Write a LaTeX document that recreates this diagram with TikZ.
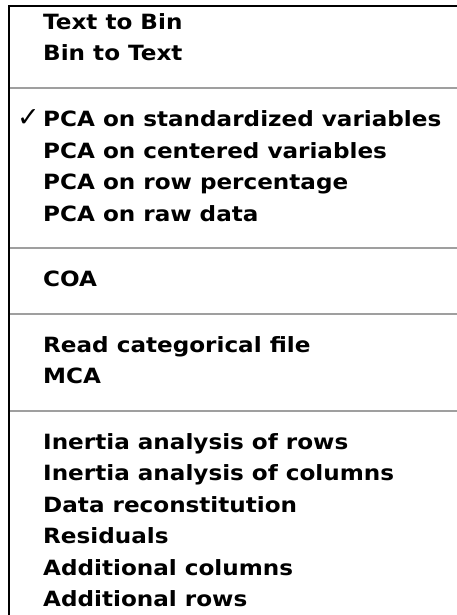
\documentclass[tikz,border=0pt]{standalone}
\usepackage{fontspec}
\setmainfont{DejaVu Sans}
\newfontfamily\menufont[FakeStretch=1.1]{DejaVu Sans}
\tikzset{
  item/.style={anchor=base west, inner sep=0pt, font=\menufont\fontsize{21}{21}\selectfont\bfseries},
  sep/.style={draw=gray!75, line width=2pt},
  frame/.style={draw=black, line width=2pt}
}
\begin{document}
\begin{tikzpicture}[x=1pt,y=-1pt]
  \useasboundingbox (0,0) rectangle (457,615);
  \fill[white] (0,0) rectangle (457,615);
  % menu border
  \draw[frame] (9,615) -- (9,6.5) -- (457,6.5);
  % items
  \node[item] (txtbin) at (43,29.5) {Text to Bin};
  \node[item] (bintxt) at (43,61) {Bin to Text};
  \draw[sep] (10,88) -- (457,88);
  \node[item] (pcastd) at (43,126.5) {PCA on standardized variables};
  \node[anchor=base east, inner sep=0pt, font=\fontsize{27}{27}\selectfont] (check) at (40,126.5) {✓};
  \node[item] (pcacen) at (43,158) {PCA on centered variables};
  \node[item] (pcarow) at (43,189.5) {PCA on row percentage};
  \node[item] (pcaraw) at (43,221) {PCA on raw data};
  \draw[sep] (10,248) -- (457,248);
  \node[item] (coa) at (43,286.5) {COA};
  \draw[sep] (10,313.5) -- (457,313.5);
  \node[item] (readcat) at (43,352) {Read categorical file};
  \node[item] (mca) at (43,383.5) {MCA};
  \draw[sep] (10,410.5) -- (457,410.5);
  \node[item] (inrows) at (43,449) {Inertia analysis of rows};
  \node[item] (incols) at (43,480.5) {Inertia analysis of columns};
  \node[item] (recon) at (43,512) {Data reconstitution};
  \node[item] (resid) at (43,543.5) {Residuals};
  \node[item] (addcols) at (43,575) {Additional columns};
  \node[item] (addrows) at (43,606.5) {Additional rows};
\end{tikzpicture}
\end{document}
